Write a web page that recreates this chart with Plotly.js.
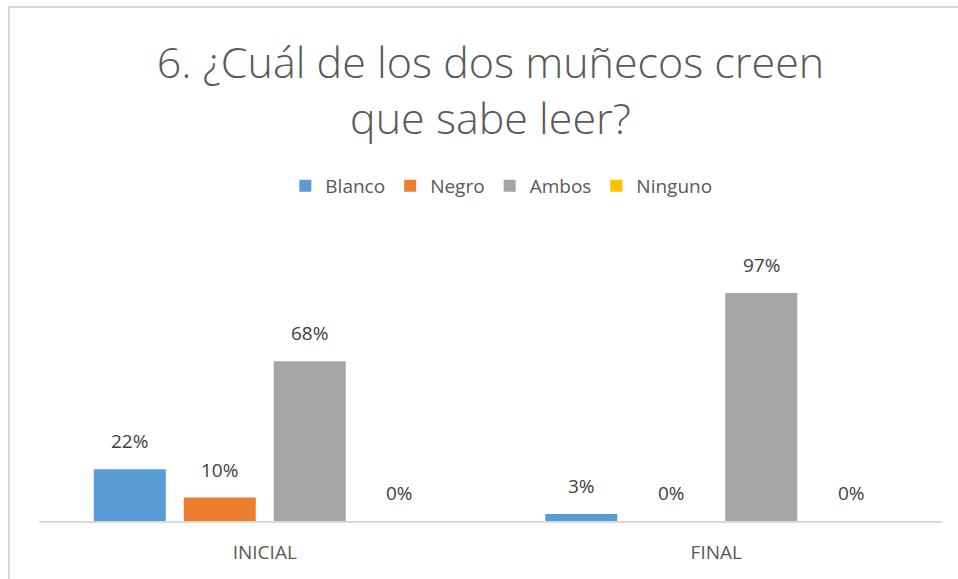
<!DOCTYPE html>
<html>
<head>
<meta charset="utf-8">
<script src="https://cdn.plot.ly/plotly-3.0.1.min.js"></script>
<style>
  body { margin: 0; background: #fff; }
  #chart { width: 958px; height: 579px; }
  #frame {
    position: absolute; left: 8px; top: 6px; right: 0; bottom: 0;
    border-left: 2px solid #d9d9d9; border-top: 2px solid #d9d9d9;
    pointer-events: none;
  }
</style>
</head>
<body>
<div id="chart"></div>
<div id="frame"></div>
<script>
var categories = ["INICIAL", "FINAL"];
var blanco = [22, 3];
var negro = [10, 0];
var ambos = [68, 97];
var ninguno = [0, 0];

var names = ["Blanco", "Negro", "Ambos", "Ninguno"];
var colors = ["#5b9bd5", "#ed7d31", "#a5a5a5", "#ffc000"];
var series = [blanco, negro, ambos, ninguno];

var data = series.map(function (vals, i) {
  return {
    type: "bar",
    name: names[i],
    x: categories,
    y: vals,
    marker: { color: colors[i] },
  };
});

// value labels, one per bar, lifted a bit above the bar like Excel does
var slot = 90;
var annotations = [];
series.forEach(function (vals, i) {
  vals.forEach(function (v, j) {
    annotations.push({
      x: categories[j],
      y: v,
      xref: "x",
      yref: "y",
      text: v + "%",
      showarrow: false,
      xshift: (i - 1.5) * slot,
      yanchor: "bottom",
      yshift: 13,
      font: { size: 19, color: "#404040" },
    });
  });
});

var layout = {
  width: 958,
  height: 579,
  font: { family: "Open Sans, sans-serif", color: "#595959" },
  title: {
    text: "6. ¿Cuál de los dos muñecos creen<br>que sabe leer?",
    font: { size: 43, color: "#595959", weight: 300 },
    x: 0.512,
    xanchor: "center",
    yref: "container",
    y: 0.865,
    yanchor: "middle",
  },
  showlegend: true,
  legend: {
    orientation: "h",
    x: 0.512,
    xanchor: "center",
    y: 1.4255,
    yanchor: "middle",
    font: { size: 19, color: "#595959" },
    itemwidth: 30,
    traceorder: "normal",
  },
  annotations: annotations,
  barmode: "group",
  bargap: 0.203,
  bargroupgap: 0.2,
  margin: { l: 39, r: 16, t: 286, b: 58 },
  xaxis: {
    showline: true,
    linecolor: "#d9d9d9",
    linewidth: 2,
    ticks: "",
    tickfont: { size: 19, color: "#595959" },
    ticklabelstandoff: 13,
  },
  yaxis: {
    range: [0, 100],
    visible: false,
    showgrid: false,
    zeroline: false,
  },
  plot_bgcolor: "#fff",
  paper_bgcolor: "#fff",
};

Plotly.newPlot("chart", data, layout, { staticPlot: true });
</script>
</body>
</html>
